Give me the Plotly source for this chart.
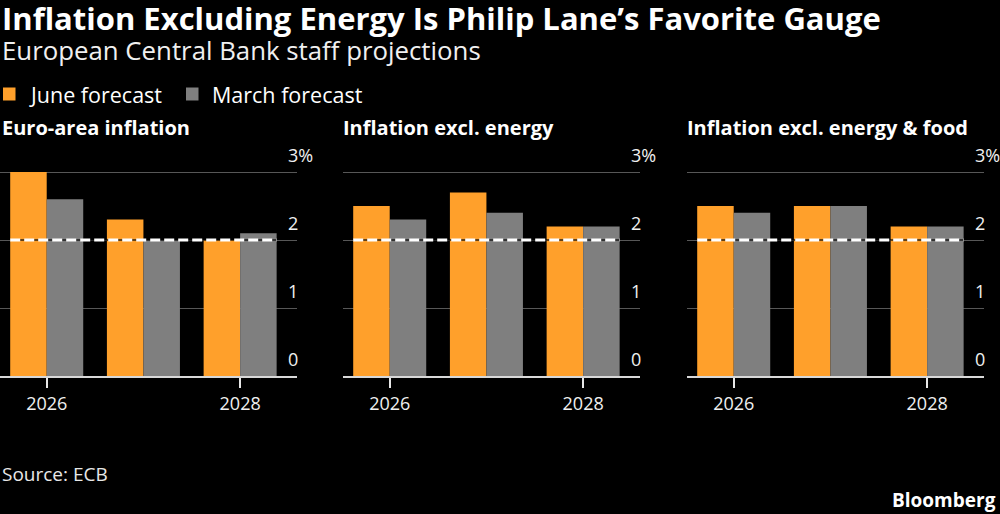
import plotly.graph_objects as go

years = [2026, 2027, 2028]
panel_titles = ["Euro-area inflation", "Inflation excl. energy", "Inflation excl. energy & food"]
june = [
    [3.0, 2.3, 2.0],
    [2.5, 2.7, 2.2],
    [2.5, 2.5, 2.2],
]
march = [
    [2.6, 2.0, 2.1],
    [2.3, 2.4, 2.2],
    [2.4, 2.5, 2.2],
]
series_names = ["June forecast", "March forecast"]
target = 2.0
ytick_vals = [0, 1, 2, 3]
ytick_text = ["0", "1", "2", "3%"]
xtick_vals = [2026, 2028]
xtick_text = ["2026", "2028"]

ORANGE = "#FFA02B"
GRAY = "#7F7F7F"
COLORS = [ORANGE, GRAY]
FONT = "Open Sans"
W, H = 1000, 514

def py(p):
    return 1 - p / H

def px(p):
    return p / W

domains = [(0.0, 0.297), (0.343, 0.640), (0.687, 0.984)]
bargap = 0.245
half = (1 - bargap) / 2
yr = [0, 3.03]
ydom = [py(376), py(376 - 3.03 * 68)]

fig = go.Figure()
for i in range(3):
    xa = "x" if i == 0 else f"x{i+1}"
    ya = "y" if i == 0 else f"y{i+1}"
    for vals, name, col in zip([june[i], march[i]], series_names, COLORS):
        fig.add_trace(go.Bar(x=years, y=vals, name=name, marker=dict(color=col, line=dict(width=0)),
                             xaxis=xa, yaxis=ya, showlegend=False, hoverinfo="skip"))

layout = dict(
    width=W, height=H,
    paper_bgcolor="black", plot_bgcolor="black",
    margin=dict(l=0, r=0, t=0, b=0, autoexpand=False),
    barmode="group", bargap=bargap, bargroupgap=0,
    font=dict(family=FONT, color="white"),
    showlegend=False,
)
shapes = []
annotations = []
for i in range(3):
    sfx = "" if i == 0 else str(i + 1)
    layout[f"xaxis{sfx}"] = dict(
        domain=list(domains[i]), anchor=f"y{sfx}", range=[2025.517, 2028.588],
        tickvals=xtick_vals, ticktext=xtick_text, ticks="outside", ticklen=10, tickwidth=2,
        tickcolor="#e8e8e8", showline=True, linecolor="#d8d8d8", linewidth=2, showgrid=False,
        zeroline=False, tickfont=dict(size=18, color="#f0f0f0", family=FONT), fixedrange=True,
    )
    layout[f"yaxis{sfx}"] = dict(
        domain=ydom, anchor=f"x{sfx}", range=yr, tickvals=ytick_vals, showticklabels=False,
        showgrid=True, gridcolor="#575757", gridwidth=1, zeroline=False, showline=False, fixedrange=True,
    )
    xref = f"x{sfx}"
    yref = f"y{sfx}"
    shapes.append(dict(type="line", xref=xref, yref=yref, x0=years[0] - half, x1=years[-1] + half,
                       y0=target, y1=target, line=dict(color="rgba(0,0,0,0.6)", width=2), layer="above"))
    shapes.append(dict(type="line", xref=xref, yref=yref, x0=years[0] - half, x1=years[-1] + half,
                       y0=target, y1=target, line=dict(color="white", width=3, dash="10px,4px"), layer="above"))
    for v, t in zip(ytick_vals, ytick_text):
        annotations.append(dict(xref=f"x{sfx} domain", yref=yref, x=0.963, y=v, text=t, showarrow=False,
                                xanchor="left", yanchor="bottom", yshift=3,
                                font=dict(size=18, color="#f0f0f0", family=FONT)))
    annotations.append(dict(xref="paper", yref="paper", x=max(domains[i][0] - 0.002, 0), y=py(127),
                            text=f"<b>{panel_titles[i]}</b>", showarrow=False, xanchor="left", yanchor="middle",
                            font=dict(size=20, color="white", family=FONT)))

# legend (manual, to match placement)
leg_x = [3, 186]
leg_text_x = [27, 210]
for lx, tx, name, col in zip(leg_x, leg_text_x, series_names, COLORS):
    shapes.append(dict(type="rect", xref="paper", yref="paper", x0=px(lx), x1=px(lx + 12.5),
                       y0=py(100.5), y1=py(87.5), fillcolor=col, line=dict(width=0), layer="above"))
    annotations.append(dict(xref="paper", yref="paper", x=px(tx), y=py(94), xanchor="left", yanchor="middle",
                            text=name, showarrow=False, font=dict(size=21.5, color="white", family=FONT)))

annotations.append(dict(xref="paper", yref="paper", x=0.0, y=py(18.5), xanchor="left", yanchor="middle",
                        text="<b>Inflation Excluding Energy Is Philip Lane’s Favorite Gauge</b>", showarrow=False,
                        font=dict(size=31, color="white", family=FONT)))
annotations.append(dict(xref="paper", yref="paper", x=0.0, y=py(50), xanchor="left", yanchor="middle",
                        text="European Central Bank staff projections", showarrow=False,
                        font=dict(size=25.8, color="#f0f0f0", family=FONT)))
annotations.append(dict(xref="paper", yref="paper", x=0.0, y=py(474), xanchor="left", yanchor="middle",
                        text="Source: ECB", showarrow=False, font=dict(size=19, color="#e8e8e8", family=FONT)))
annotations.append(dict(xref="paper", yref="paper", x=0.998, y=py(500), xanchor="right", yanchor="middle",
                        text="<b>Bloomberg</b>", showarrow=False, font=dict(size=19, color="white", family=FONT)))

layout["shapes"] = shapes
layout["annotations"] = annotations
fig.update_layout(**layout)
fig.write_html("out.html", config={"displayModeBar": False})
